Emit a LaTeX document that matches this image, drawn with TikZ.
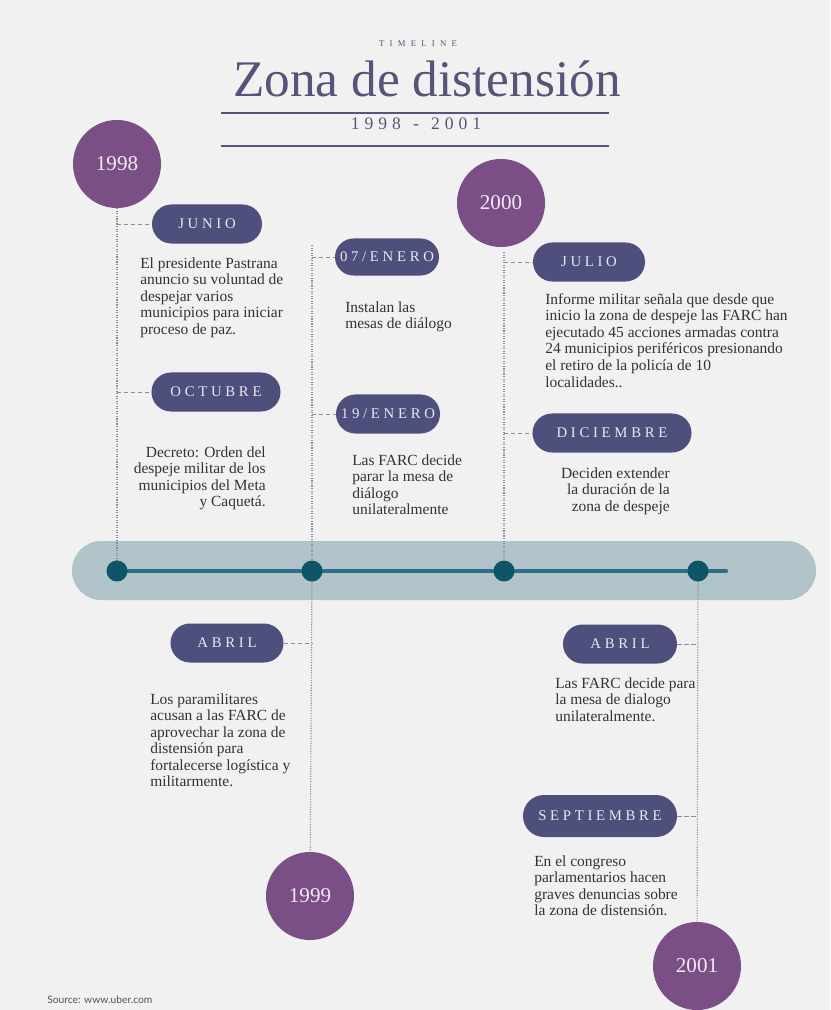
\documentclass[tikz,border=0pt]{standalone}
\usepackage{fontspec}
\setmainfont{Liberation Serif}
\setsansfont{Lato}
\usepackage{xcolor}
\usetikzlibrary{shapes.misc}
\definecolor{bgc}{HTML}{F1F1F1}
\definecolor{titlec}{HTML}{555579}
\definecolor{yearc}{HTML}{7A4F85}
\definecolor{yeartxt}{HTML}{F3E9F3}
\definecolor{pillc}{HTML}{4F4F7E}
\definecolor{pilltxt}{HTML}{E8E8F2}
\definecolor{barc}{HTML}{B0C4C9}
\definecolor{trackc}{HTML}{2E6F87}
\definecolor{dotc}{HTML}{0E5567}
\definecolor{guidec}{HTML}{8A8AA5}
\definecolor{textc}{HTML}{333333}
\newcommand{\spaced}[1]{\addfontfeatures{LetterSpace=#1}}

\begin{document}
\begin{tikzpicture}[x=0.025cm,y=-0.025cm,
  year/.style={circle,fill=yearc,minimum size=2.2cm,inner sep=0,text=yeartxt,font=\fontsize{15}{15}\selectfont},
  month/.style={rounded rectangle,fill=pillc,minimum height=0.975cm,inner sep=0,text=pilltxt,font=\fontsize{10.5}{10.5}\selectfont\spaced{25}},
  info/.style={inner sep=0,text=textc,font=\fontsize{11}{11.8}\selectfont,align=left},
  guide/.style={guidec,densely dotted,line width=0.8pt},
  tick/.style={guidec,densely dashed,line width=0.6pt},
  dot/.style={circle,fill=dotc,minimum size=0.525cm,inner sep=0}]
\fill[bgc](0,0)rectangle(830,1010);
\useasboundingbox(0,0)rectangle(830,1010);
% header
\node[titlec,font=\fontsize{6.2}{6.2}\selectfont\spaced{60}](kicker)at(418,47)[anchor=base]{TIMELINE};
\node[titlec,font=\fontsize{36.5}{36.5}\selectfont](title)at(427,97)[anchor=base]{Zona de distensión};
\node[titlec,font=\fontsize{12.5}{12.5}\selectfont\spaced{28}](span)at(416,130)[anchor=base]{1998 \,-\, 2001};
\draw[titlec,line width=1.5pt](221,113)--(609,113);
\draw[titlec,line width=1.5pt](221,146)--(609,146);
% bar
\fill[barc,rounded corners=0.73cm](72,541)rectangle(816,600);
\coordinate(c1)at(117,571);
\coordinate(c2)at(312,571);
\coordinate(c3)at(504,571);
\coordinate(c4)at(698,571);
\coordinate(trackend)at(726,571);
\draw[trackc,line width=3pt,line cap=round](c1)--(trackend);
% years
\node[year](y98)at(117,164){1998};
\node[year](y00)at(501,203){2000};
\node[year](y99)at(310,896){1999};
\node[year](y01)at(697,966){2001};
\coordinate(top2)at(312,245);
\coordinate(top3)at(504,252);
\draw[guide](y98)--(c1);
\draw[guide](top2)--(c2);
\draw[guide](c2)--(y99);
\draw[guide](top3)--(c3);
\draw[guide](c4)--(y01);
\node[dot](d1)at(c1){};
\node[dot](d2)at(c2){};
\node[dot](d3)at(c3){};
\node[dot](d4)at(c4){};
% months
\node[month,minimum width=2.75cm](junio)at(207,224){JUNIO};
\node[month,minimum width=3.225cm](octubre)at(216,392){OCTUBRE};
\node[month,minimum width=2.6cm,minimum height=0.925cm](enero07)at(387,257){07/ENERO};
\node[month,minimum width=2.6cm](enero19)at(388,414){19/ENERO};
\node[month,minimum width=2.8cm](julio)at(589,262){JULIO};
\node[month,minimum width=3.975cm](diciembre)at(612,433){DICIEMBRE};
\node[month,minimum width=2.825cm](abril99)at(227,643){ABRIL};
\node[month,minimum width=2.85cm](abril01)at(620,644){ABRIL};
\node[month,minimum width=3.85cm,minimum height=1.05cm](septiembre)at(600,816){SEPTIEMBRE};
\draw[tick](d1|-junio)--(junio.west);
\draw[tick](d1|-octubre)--(octubre.west);
\draw[tick](d2|-enero07)--(enero07.west);
\draw[tick](d2|-enero19)--(enero19.west);
\draw[tick](d3|-julio)--(julio.west);
\draw[tick](d3|-diciembre)--(diciembre.west);
\draw[tick](abril99.east)--(d2|-abril99);
\draw[tick](abril01.east)--(d4|-abril01);
\draw[tick](septiembre.east)--(d4|-septiembre);
% texts
\node[info,anchor=north west](tjunio)at(140,257){El presidente Pastrana\\anuncio su voluntad de\\despejar varios\\municipios para iniciar\\proceso de paz.};
\node[info,anchor=north east,align=right](toctubre)at(266,446){Decreto: Orden del\\despeje militar de los\\municipios del Meta\\y Caquetá.};
\node[info,anchor=north west](tenero07)at(345,301){Instalan las\\mesas de diálogo};
\node[info,anchor=north west](tenero19)at(352,454){Las FARC decide\\parar la mesa de\\diálogo\\unilateralmente};
\node[info,anchor=north west](tjulio)at(545,293){Informe militar señala que desde que\\inicio la zona de despeje las FARC han\\ejecutado 45 acciones armadas contra\\24 municipios periféricos presionando\\el retiro de la policía de 10\\localidades..};
\node[info,anchor=north east,align=right](tdiciembre)at(670,467){Deciden extender\\la duración de la\\zona de despeje};
\node[info,anchor=north west](tabril99)at(150,693){Los paramilitares\\acusan a las FARC de\\aprovechar la zona de\\distensión para\\fortalecerse logística y\\militarmente.};
\node[info,anchor=north west](tabril01)at(555,677){Las FARC decide para\\la mesa de dialogo\\unilateralmente.};
\node[info,anchor=north west](tseptiembre)at(534,855){En el congreso\\parlamentarios hacen\\graves denuncias sobre\\la zona de distensión.};
\node[anchor=base west,inner sep=0,text=textc!85,font=\sffamily\fontsize{7.3}{7.3}\selectfont](source)at(47,1003){Source: www.uber.com};
\end{tikzpicture}
\end{document}
